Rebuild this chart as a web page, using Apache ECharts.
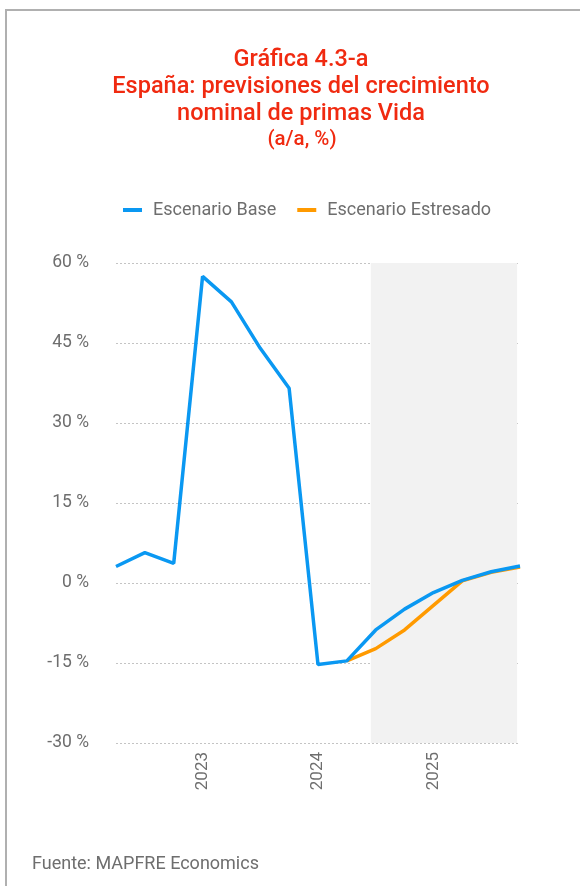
<!DOCTYPE html>
<html>
<head>
<meta charset="utf-8">
<script src="https://cdn.jsdelivr.net/npm/echarts@6/dist/echarts.min.js"></script>
<style>
html,body{margin:0;padding:0;background:#fff;}
#wrap{position:relative;width:580px;height:886px;}
#frame{position:absolute;left:5px;top:9px;right:0;bottom:0;border-left:2px solid #b0b0b0;border-top:2px solid #b0b0b0;}
#chart{position:absolute;left:0;top:0;width:580px;height:886px;}
</style>
</head>
<body>
<div id="wrap"><div id="frame"></div><div id="chart"></div></div>
<script>
// Quarterly periods
const categories = ['2022-T2','2022-T3','2022-T4','2023-T1','2023-T2','2023-T3','2023-T4',
  '2024-T1','2024-T2','2024-T3','2024-T4','2025-T1','2025-T2','2025-T3','2025-T4'];
const baseValues = [3.1, 5.7, 3.7, 57.5, 52.7, 44.0, 36.5, -15.3, -14.6, -8.8, -4.9, -1.8, 0.5, 2.1, 3.2];
const stressValues = [null, null, null, null, null, null, null, null, -14.6, -12.3, -8.8, -4.2, 0.4, 2.0, 3.0];
const seriesNames = ['Escenario Base', 'Escenario Estresado'];
const yTicks = { min: -30, max: 60, interval: 15 };
// forecast (shaded) period, in period-index units
const forecastRange = [8.83, 13.9];

const titleLines = ['Gráfica 4.3-a', 'España: previsiones del crecimiento', 'nominal de primas Vida'];
const subtitle = '(a/a, %)';
const source = 'Fuente: MAPFRE Economics';

const chart = echarts.init(document.getElementById('chart'), null, {renderer: 'canvas'});
const font = 'Roboto';
const gray = '#6e6e6e';
const red = '#f02a10';
chart.setOption({
  backgroundColor: 'transparent',
  animation: false,
  title: [
    { text: titleLines.join('\n'), left: 296, textAlign: 'center', top: 42,
      textStyle: { fontFamily: font, fontSize: 23.5, fontWeight: 500, color: red, lineHeight: 27 } },
    { text: subtitle, left: 297, textAlign: 'center', top: 124,
      textStyle: { fontFamily: font, fontSize: 20.5, fontWeight: 500, color: red, lineHeight: 22 } },
    { text: source, left: 27, top: 850,
      textStyle: { fontFamily: font, fontSize: 18, fontWeight: 'normal', color: gray } }
  ],
  legend: {
    data: seriesNames, left: 118, top: 196, itemWidth: 19, itemHeight: 4, itemGap: 21,
    icon: 'rect',
    textStyle: { fontFamily: font, fontSize: 18, color: gray, padding: [0, 0, 0, 6] }
  },
  grid: { left: 116, right: 60, top: 263, bottom: 143, containLabel: false },
  xAxis: [
    { type: 'category', data: categories, boundaryGap: false,
      axisLine: { show: false }, axisTick: { show: false }, splitLine: { show: false },
      axisLabel: { rotate: 90, fontFamily: font, fontSize: 17, color: gray, margin: 9,
        interval: 0,
        formatter: v => v.endsWith('T1') ? v.slice(0, 4) : '' } },
    { type: 'value', min: 0, max: categories.length - 1, show: false }
  ],
  yAxis: {
    type: 'value', min: yTicks.min, max: yTicks.max, interval: yTicks.interval,
    axisLine: { show: false }, axisTick: { show: false },
    axisLabel: { formatter: v => v + ' %', fontFamily: font, fontSize: 17.5, color: gray, margin: 27 },
    splitLine: { show: true, lineStyle: { type: [2, 2], color: '#c4c4c4', width: 1 } }
  },
  series: [
    { name: 'shade', type: 'line', xAxisIndex: 1, data: [], silent: true,
      markArea: { silent: true, itemStyle: { color: '#f2f2f2' },
        data: [[{ xAxis: forecastRange[0] }, { xAxis: forecastRange[1] }]] }, z: 0 },
    { name: seriesNames[1], type: 'line', data: stressValues, showSymbol: false, symbol: 'none',
      lineStyle: { color: '#ff9a00', width: 3.5 }, itemStyle: { color: '#ff9a00' }, z: 2 },
    { name: seriesNames[0], type: 'line', data: baseValues, showSymbol: false, symbol: 'none',
      lineStyle: { color: '#0a98f2', width: 3.5 }, itemStyle: { color: '#0a98f2' }, z: 3 }
  ]
});
</script>
</body>
</html>
